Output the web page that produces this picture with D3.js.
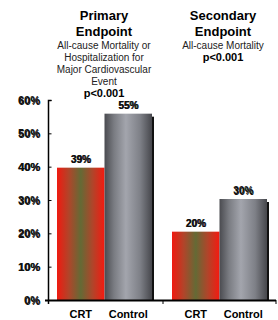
<!DOCTYPE html>
<html><head><meta charset="utf-8">
<script src="https://cdn.jsdelivr.net/npm/d3@7"></script>
<style>body{margin:0;background:#fff}svg{display:block}text{font-family:"Liberation Sans",Arial,sans-serif}</style>
</head><body><svg id="c" width="278" height="320"></svg>
<script>
const groups = ["Primary", "Secondary"];
const categories = ["CRT", "Control"];
const crtValues = [39.7, 20.5];
const controlValues = [55.9, 30.3];
const valueLabels = [["39%", "55%"], ["20%", "30%"]];
const yTicks = [0, 10, 20, 30, 40, 50, 60];
const titles = [["Primary", "Endpoint"], ["Secondary", "Endpoint"]];
const subtitles = [["All-cause Mortality or", "Hospitalization for", "Major Cardiovascular", "Event"], ["All-cause Mortality"]];
const pValues = ["p<0.001", "p<0.001"];

const svg = d3.select("#c");
const defs = svg.append("defs");
const gRed = defs.append("linearGradient").attr("id", "gRed");
[[0, "#f01a10"], [0.25, "#b0452a"], [0.5, "#646a35"], [0.75, "#b0452a"], [1, "#f51a10"]].forEach(s => gRed.append("stop").attr("offset", s[0]).attr("stop-color", s[1]));
const gGray = defs.append("linearGradient").attr("id", "gGray");
[[0, "#4a4b50"], [0.2, "#7a7c82"], [0.45, "#a3a5ad"], [0.75, "#7e8087"], [1, "#46474c"]].forEach(s => gGray.append("stop").attr("offset", s[0]).attr("stop-color", s[1]));

const y = d3.scaleLinear().domain([0, 60]).range([300, 100]);
const xGroupCenter = d3.scaleOrdinal().domain(groups).range([104.5, 219.5]);
const barW = 47.5;
const data = [];
groups.forEach((g, gi) => {
  data.push({g, gi, ci: 0, cat: categories[0], v: crtValues[gi], lab: valueLabels[gi][0]});
  data.push({g, gi, ci: 1, cat: categories[1], v: controlValues[gi], lab: valueLabels[gi][1]});
});
const bx = d => xGroupCenter(d.g) - barW + d.ci * barW;

// shadows
svg.selectAll("rect.sh").data(data.filter(d => d.ci === 1)).enter().append("rect")
  .attr("x", d => bx(d) + barW).attr("y", d => y(d.v) + 3).attr("width", 2).attr("height", d => 300 - y(d.v) - 3).attr("fill", "#111");
svg.selectAll("rect.bar").data(data).enter().append("rect")
  .attr("x", bx).attr("y", d => y(d.v)).attr("width", barW).attr("height", d => 300 - y(d.v))
  .attr("fill", d => d.ci === 0 ? "url(#gRed)" : "url(#gGray)");

// value labels
[[0.6, 0.5], [0, 0]].forEach(off => {
  svg.selectAll(null).data(data).enter().append("text")
    .attr("x", d => bx(d) + barW / 2 + off[0]).attr("y", d => y(d.v) - 5 + off[1])
    .attr("text-anchor", "middle").attr("font-size", 10).attr("font-weight", "bold").attr("fill", "#111")
    .text(d => d.lab);
});

// baseline
svg.append("line").attr("x1", 45).attr("x2", 276).attr("y1", 300.5).attr("y2", 300.5).attr("stroke", "#000").attr("stroke-width", 2);
[163, 276].forEach(xx => svg.append("line").attr("x1", xx).attr("x2", xx).attr("y1", 300).attr("y2", 304).attr("stroke", "#000").attr("stroke-width", 1));

// y axis
const yAxis = d3.axisRight(y).tickValues(yTicks).tickSize(3).tickFormat("");
const ya = svg.append("g").attr("transform", "translate(48.5,0)").call(yAxis);
ya.select(".domain").attr("stroke-width", 1.5).attr("d", "M3,100.5H0V304");
ya.selectAll(".tick line").attr("stroke-width", 1);
[[0.6, 0.5], [0, 0]].forEach(off => {
  svg.selectAll(null).data(yTicks).enter().append("text")
    .attr("x", 40 + off[0]).attr("y", d => y(d) + 4 + off[1]).attr("text-anchor", "end")
    .attr("font-size", 11).attr("font-weight", "bold").attr("fill", "#111").text(d => d + "%");
});

// category labels
svg.selectAll(null).data(data).enter().append("text")
  .attr("x", d => bx(d) + barW / 2).attr("y", 318).attr("text-anchor", "middle")
  .attr("font-size", 11).attr("font-weight", "bold").text(d => d.cat);

// titles
groups.forEach((g, gi) => {
  const cx = gi === 0 ? 104 : 223;
  titles[gi].forEach((t, i) => svg.append("text").attr("x", cx).attr("y", 20 + i * 16).attr("text-anchor", "middle")
    .attr("font-size", 13).attr("font-weight", "bold").text(t));
  subtitles[gi].forEach((t, i) => svg.append("text").attr("x", cx).attr("y", 49 + i * 12).attr("text-anchor", "middle")
    .attr("font-size", 10).attr("fill", "#222").text(t));
  svg.append("text").attr("x", cx).attr("y", 49 + subtitles[gi].length * 12).attr("text-anchor", "middle")
    .attr("font-size", 11).attr("font-weight", "bold").text(pValues[gi]);
});
</script></body></html>
